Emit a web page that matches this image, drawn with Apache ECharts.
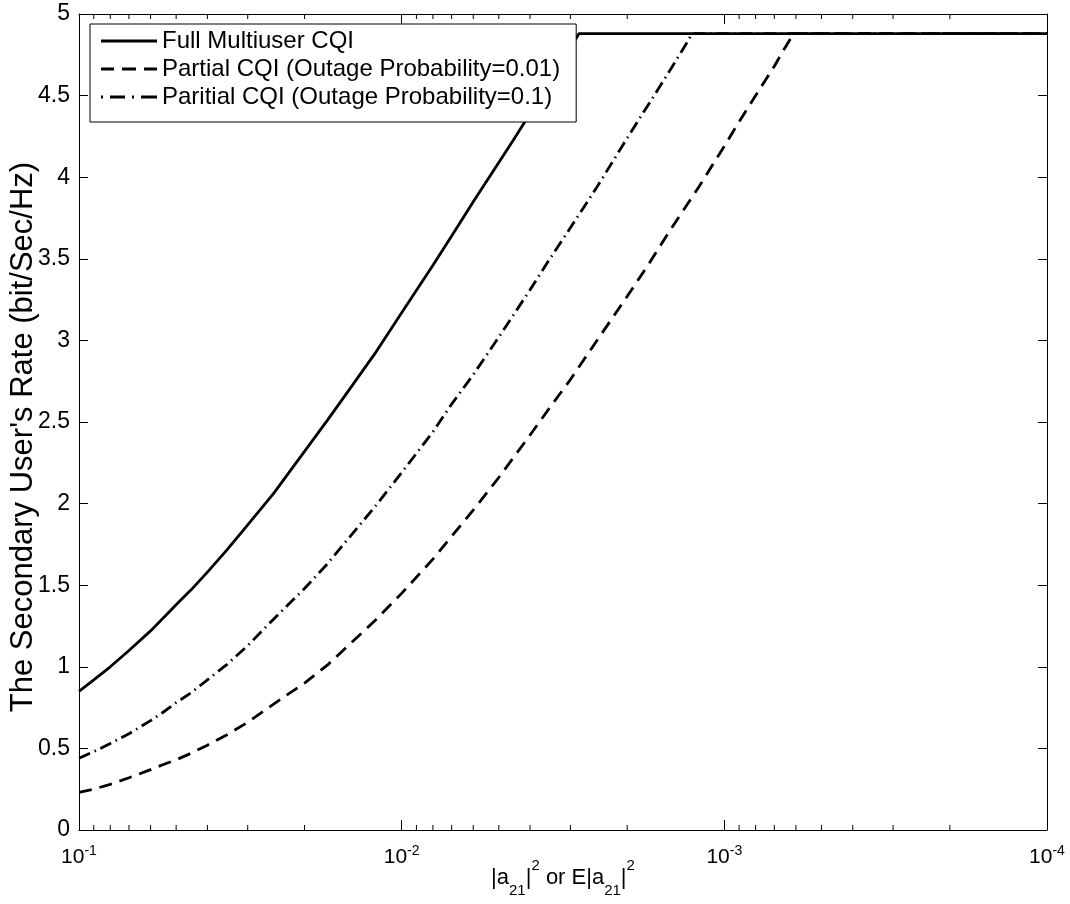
<!DOCTYPE html>
<html><head><meta charset="utf-8">
<script src="https://cdn.jsdelivr.net/npm/echarts@6/dist/echarts.min.js"></script>
<style>html,body{margin:0;padding:0;background:#fff}#c{width:1070px;height:904px}</style>
</head><body><div id="c"></div>
<script>
// Data
const fullX = [0.1, 0.09, 0.08, 0.07, 0.06, 0.05, 0.045, 0.04, 0.035, 0.03, 0.025, 0.02, 0.017, 0.015, 0.012, 0.01, 0.008, 0.007, 0.006, 0.005, 0.0045, 0.004, 0.0035, 0.0031, 0.0029, 0.00282, 0.0001];
const fullY = [0.85, 0.92, 1.00, 1.10, 1.22, 1.38, 1.47, 1.58, 1.71, 1.87, 2.06, 2.32, 2.51, 2.66, 2.93, 3.17, 3.46, 3.64, 3.85, 4.09, 4.23, 4.39, 4.58, 4.74, 4.84, 4.88, 4.88];

const dashX = [0.1, 0.09, 0.08, 0.07, 0.06, 0.055, 0.05, 0.045, 0.04, 0.035, 0.03, 0.025, 0.02, 0.017, 0.015, 0.012, 0.01, 0.008, 0.007, 0.006, 0.005, 0.004, 0.0035, 0.003, 0.0025, 0.002, 0.0017, 0.0015, 0.0012, 0.001, 0.0009, 0.0008, 0.0007, 0.00065, 0.00061, 0.0001];
const dashY = [0.23, 0.25, 0.28, 0.32, 0.37, 0.40, 0.43, 0.47, 0.52, 0.58, 0.66, 0.77, 0.90, 1.01, 1.11, 1.29, 1.45, 1.66, 1.80, 1.96, 2.16, 2.42, 2.58, 2.76, 2.99, 3.27, 3.48, 3.65, 3.94, 4.19, 4.34, 4.50, 4.68, 4.79, 4.88, 4.88];

const dotX = [0.1, 0.09, 0.08, 0.07, 0.06, 0.055, 0.05, 0.045, 0.04, 0.035, 0.03, 0.025, 0.02, 0.017, 0.015, 0.012, 0.01, 0.008, 0.007, 0.006, 0.005, 0.004, 0.0035, 0.003, 0.0025, 0.002, 0.0017, 0.0015, 0.0013, 0.00126, 0.0001];
const dotY = [0.44, 0.48, 0.53, 0.59, 0.67, 0.72, 0.78, 0.84, 0.92, 1.01, 1.13, 1.29, 1.48, 1.63, 1.76, 1.99, 2.19, 2.44, 2.61, 2.79, 3.02, 3.31, 3.49, 3.69, 3.93, 4.24, 4.46, 4.63, 4.83, 4.88, 4.88];

const seriesNames = ['Full Multiuser CQI', 'Partial CQI (Outage Probability=0.01)', 'Paritial CQI (Outage Probability=0.1)'];
const xMin = 0.0001, xMax = 0.1;
const minorTickValues = [0.09,0.08,0.07,0.06,0.05,0.04,0.03,0.02,
  0.009,0.008,0.007,0.006,0.005,0.004,0.003,0.002,
  0.0009,0.0008,0.0007,0.0006,0.0005,0.0004,0.0003,0.0002];

const FONT = 'Liberation Sans, Arial, Helvetica, sans-serif';
const zip = (xs, ys) => xs.map((x, i) => [x, ys[i]]);

// legend icons: solid, dashed, dash-dot (56 x 3 boxes)
const iconSolid = 'path://M0,0h56v3h-56z';
const iconDash = 'path://M0,0h13v3h-13z M21,0h14v3h-14z M43,0h13v3h-13z';
const iconDashDot = 'path://M0,0h2v3h-2z M9,0h15v3h-15z M31,0h2v3h-2z M40,0h16v3h-16z';

const chart = echarts.init(document.getElementById('c'), null, {renderer: 'canvas'});
const xCommon = {
  type: 'log', logBase: 10, min: xMin, max: xMax, inverse: true,
  axisLine: {show: true, onZero: false, lineStyle: {color: '#000', width: 1}},
  axisTick: {show: true, inside: true, length: 10, lineStyle: {color: '#000', width: 1}},
  splitLine: {show: false}, minorTick: {show: false}
};
const yCommon = {
  type: 'value', min: 0, max: 5, interval: 0.5,
  axisLine: {show: true, onZero: false, lineStyle: {color: '#000', width: 1}},
  axisTick: {show: true, inside: true, length: 9, lineStyle: {color: '#000', width: 1}},
  splitLine: {show: false}
};
chart.setOption({
  animation: false,
  backgroundColor: '#fff',
  textStyle: {fontFamily: FONT},
  grid: {left: 79, right: 23, top: 14, bottom: 74, containLabel: false, outerBoundsMode: 'none'},
  xAxis: [
    Object.assign({}, xCommon, {
      position: 'bottom',
      name: '{m||a}{sub|21}{m||}{sup|2}{m| or E|a}{sub|21}{m||}{sup|2}',
      nameLocation: 'middle', nameGap: 28, nameMoveOverlap: false,
      nameTextStyle: {
        color: '#000',
        rich: {
          m: {fontSize: 22, fontFamily: FONT, color: '#000', lineHeight: 40},
          sub: {fontSize: 15, fontFamily: FONT, color: '#000', lineHeight: 15, verticalAlign: 'bottom'},
          sup: {fontSize: 15, fontFamily: FONT, color: '#000', lineHeight: 15, verticalAlign: 'top'}
        }
      },
      axisLabel: {
        show: true, margin: 14, color: '#000',
        formatter: function (v) {
          const e = Math.round(Math.log10(v));
          return '{b|10}{s|' + e + '}';
        },
        rich: {
          b: {fontSize: 21, fontFamily: FONT, color: '#000'},
          s: {fontSize: 14, fontFamily: FONT, color: '#000', padding: [0, 0, 13, 0]}
        }
      }
    }),
    Object.assign({}, xCommon, {position: 'top', axisLabel: {show: false}})
  ],
  yAxis: [
    Object.assign({}, yCommon, {
      position: 'left',
      name: "The Secondary User's Rate (bit/Sec/Hz)",
      nameLocation: 'middle', nameGap: 40, nameRotate: 90, nameMoveOverlap: false,
      nameTextStyle: {fontSize: 31, fontFamily: FONT, color: '#000', padding: [0, 30, 0, 0]},
      axisLabel: {show: true, margin: 9, fontSize: 23, fontFamily: FONT, color: '#000',
        formatter: function (v) { return String(v); }}
    }),
    Object.assign({}, yCommon, {position: 'right', axisLabel: {show: false}})
  ],
  legend: {
    data: [
      {name: seriesNames[0], icon: iconSolid},
      {name: seriesNames[1], icon: iconDash},
      {name: seriesNames[2], icon: iconDashDot}
    ],
    orient: 'vertical', left: 90, top: 24, z: 20,
    padding: [5, 16, 13, 11],
    itemGap: 4, itemWidth: 56, itemHeight: 3,
    itemStyle: {color: '#000', borderWidth: 0},
    backgroundColor: '#fff', borderColor: '#000', borderWidth: 1, borderRadius: 0,
    textStyle: {fontSize: 24, fontFamily: FONT, color: '#000', lineHeight: 24},
    selectedMode: false
  },
  series: [
    {
      name: seriesNames[0], type: 'line', data: zip(fullX, fullY),
      showSymbol: false, symbol: 'none', z: 3, color: '#000',
      lineStyle: {color: '#000', width: 2.8, type: 'solid'}
    },
    {
      name: seriesNames[1], type: 'line', data: zip(dashX, dashY),
      showSymbol: false, symbol: 'none', z: 2, color: '#000',
      lineStyle: {color: '#000', width: 2.8, type: [13, 8], cap: 'butt'}
    },
    {
      name: seriesNames[2], type: 'line', data: zip(dotX, dotY),
      showSymbol: false, symbol: 'none', z: 2, color: '#000',
      lineStyle: {color: '#000', width: 2.8, type: [12, 5, 1.5, 5], cap: 'butt'}
    },
    {
      name: 'minorTicks', type: 'custom', silent: true, clip: false, z: 2,
      data: minorTickValues.map(v => [v, 0]),
      encode: {x: 0, y: 1},
      renderItem: function (params, api) {
        const v = api.value(0);
        const pb = api.coord([v, 0]);
        const pt = api.coord([v, 5]);
        const st = {stroke: '#000', lineWidth: 1};
        return {
          type: 'group',
          children: [
            {type: 'line', shape: {x1: pb[0], y1: pb[1], x2: pb[0], y2: pb[1] - 5}, style: st},
            {type: 'line', shape: {x1: pt[0], y1: pt[1], x2: pt[0], y2: pt[1] + 5}, style: st}
          ]
        };
      }
    }
  ]
});
</script>
</body></html>
